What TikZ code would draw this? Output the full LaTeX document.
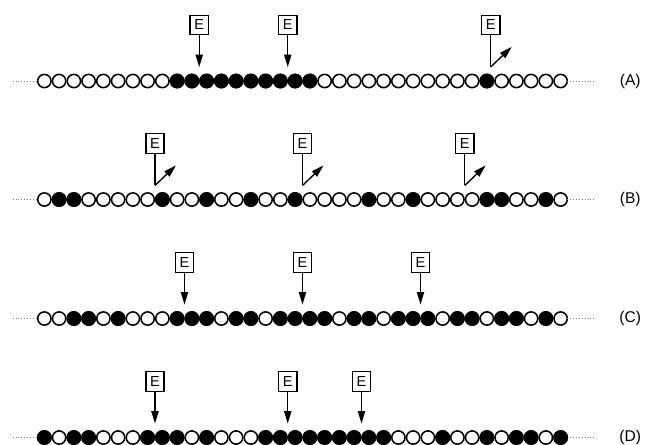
\documentclass[tikz,border=0pt]{standalone}
\usepackage{fontspec}
\setmainfont{Liberation Sans}
\usetikzlibrary{arrows.meta,calc,positioning}

\begin{document}
\begin{tikzpicture}[
    >={Triangle[length=12pt,width=7pt]},
    bead/.style={
        circle,
        draw=black,
        line width=1.5pt,
        fill=white,
        minimum size=0.45cm,
        inner sep=0pt,
        outer sep=0pt
    },
    fullbead/.style={bead, fill=black},
    ebox/.style={
        draw,
        line width=1.3pt,
        minimum width=0.62cm,
        minimum height=0.66cm,
        inner sep=0pt,
        font=\fontsize{14}{14}\selectfont
    },
    rowlabel/.style={font=\fontsize{15}{17}\selectfont},
    dots/.style={dotted, gray, line width=0.8pt},
    stem/.style={line width=1.3pt},
    arrow/.style={->, line width=1.3pt}
]
\useasboundingbox (0,0) rectangle (21.864,-15.051);

% Four chains of 36 beads, all white first.
\foreach \r/\y/\lab in {A/-2.746/(A), B/-6.763/(B), C/-10.797/(C), D/-14.831/(D)} {
    \foreach \i in {1,...,36} {
        \pgfmathsetmacro{\x}{1.004+0.5*\i}
        \node[bead] (\r\i) at (\x,\y) {};
    }
    \draw[dots] ($(\r1.west)+(-0.85,0)$) -- (\r1.west);
    \draw[dots] (\r36.east) -- ($(\r36.east)+(0.95,0)$);
    \node[rowlabel] (lab\r) at ($(\r36)+(2.36,0)$) {\lab};
}

% Black beads of each chain.
\foreach \i in {10,11,12,13,14,15,16,17,18,19,31}
    \node[fullbead] at (A\i) {};
\foreach \i in {2,3,9,12,15,18,23,26,31,32,35}
    \node[fullbead] at (B\i) {};
\foreach \i in {3,4,6,10,11,12,14,15,17,18,19,20,22,23,25,26,27,29,30,32,33,35}
    \node[fullbead] at (C\i) {};
\foreach \i in {1,3,4,8,9,10,12,16,17,18,19,20,21,22,23,24,28,31,33,34,36}
    \node[fullbead] at (D\i) {};

% E markers: straight arrows (0) or kinked arrows leaving the chain (1).
\foreach \r/\a/\b/\kind [count=\n] in {
    A/11/12/0, A/17/18/0,
    B/8/9/1, B/18/19/1, B/29/30/1,
    C/10/11/0, C/18/19/0, C/26/27/0,
    D/8/9/0, D/17/18/0, D/22/23/0
} {
    \coordinate (base\n) at ($(\r\a)!0.5!(\r\b)$);
    \node[ebox] (e\n) at ($(base\n)+(0,1.9)$) {E};
    \coordinate (tip\n) at ($(base\n)+(0,0.475)$);
    \ifnum\kind=0
        \draw[arrow] (e\n) -- (tip\n);
    \else
        \coordinate (out\n) at ($(tip\n)+(0.71,0.68)$);
        \draw[stem] (e\n) -- (tip\n);
        \draw[arrow] (tip\n) -- (out\n);
    \fi
}

% Last marker of chain A sits over the lone black bead.
\coordinate (baseA) at ($(A31)+(0.13,0)$);
\node[ebox] (eA) at ($(baseA)+(0,1.9)$) {E};
\coordinate (tipA) at ($(baseA)+(0,0.475)$);
\coordinate (outA) at ($(tipA)+(0.71,0.68)$);
\draw[stem] (eA) -- (tipA);
\draw[arrow] (tipA) -- (outA);

\end{tikzpicture}
\end{document}
